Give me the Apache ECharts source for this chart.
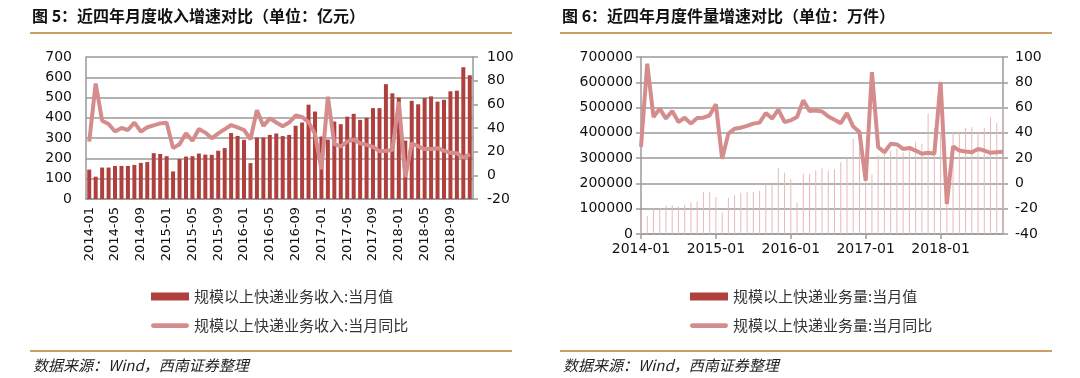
<!DOCTYPE html>
<html>
<head>
<meta charset="utf-8">
<script src="https://cdn.jsdelivr.net/npm/echarts@6/dist/echarts.min.js"></script>
<style>
html, body { margin: 0; padding: 0; background: #fff; }
#main { width: 1080px; height: 378px; }
</style>
</head>
<body>
<div id="main"></div>
<script>
// 月份
function monthList(startYear, count) {
    var out = [];
    for (var i = 0; i < count; i++) {
        var y = startYear + Math.floor(i / 12);
        var m = (i % 12) + 1;
        out.push(y + '-' + (m < 10 ? '0' + m : m));
    }
    return out;
}
var incomeMonths = monthList(2014, 60);
var volumeMonths = monthList(2014, 59);

// 图5 收入（亿元）与同比（%）
var incomeValue = [145, 110, 155, 155, 163, 163, 163, 168, 178, 182, 226, 222,
    211, 136, 197, 209, 211, 224, 219, 218, 238, 251, 325, 311,
    292, 177, 303, 303, 316, 323, 310, 316, 361, 377, 465, 431,
    308, 293, 382, 369, 406, 420, 390, 400, 448, 448, 566, 521,
    500, 288, 484, 467, 498, 506, 480, 489, 531, 534, 649, 610];
var incomeYoy = [28.5, 77.6, 46.2, 43.4, 37, 40, 38.3, 44.5, 37, 40.6, 42.2, 43.9,
    44.5, 23, 26.3, 35.5, 29.3, 39.2, 36.1, 31.3, 35.5, 38.9, 42.5, 40.6,
    38.3, 30.5, 55.1, 41.7, 48.1, 44.6, 41.4, 44.6, 50.5, 49.3, 45, 35,
    5, 66.4, 26.4, 24.5, 28.5, 30.2, 27.1, 25.7, 24, 20.4, 20.8, 21.5,
    62.1, -1.5, 27.1, 24.6, 22.2, 22.2, 22.9, 20.8, 19, 18.7, 14.9, 17.7];

// 图6 件量（万件）与同比（%）
var volumeValue = [92000, 71000, 101000, 101000, 112000, 113000, 109000, 116000, 125000, 130000, 165000, 165000,
    146000, 85000, 142000, 153000, 163000, 165000, 166000, 171000, 196000, 200000, 262000, 242000,
    218000, 125000, 238000, 238000, 251000, 260000, 251000, 256000, 284000, 300000, 376000, 346000,
    223000, 235000, 310000, 318000, 330000, 338000, 322000, 336000, 365000, 357000, 477000, 420000,
    403000, 197000, 401000, 405000, 420000, 422000, 405000, 420000, 462000, 440000, 500000];
var volumeYoy = [28.9, 94.7, 52.6, 59.2, 51.3, 57.3, 48.6, 52, 47.3, 51.8, 52, 53.9,
    62.6, 19.6, 39.4, 43.3, 44.1, 45.5, 47.3, 48.1, 55.7, 51.3, 58.4, 48.6,
    49.9, 52.5, 65.7, 57.3, 57.7, 56.9, 53, 50.3, 47.7, 55.6, 45, 40.6,
    2.2, 88.1, 28.7, 24.7, 31.3, 30.8, 27.3, 28.1, 26, 23.4, 24.2, 23.4,
    80.2, -16.2, 29.2, 26, 25.2, 24.7, 27.3, 26, 24.2, 24.7, 25];

var cjk = '"Noto Sans CJK SC", sans-serif';
var num = '"DejaVu Sans", sans-serif';
var barColor = '#b0403e';
var lineColor = '#d48d8c';
var gold = '#c9a062';
var gridGray = '#9a9a9a';
// 图例中的粗线（圆头）
var lineIcon = 'path://M2.5,0 L37.5,0 A2.5,2.5 0 0 1 37.5,5 L2.5,5 A2.5,2.5 0 0 1 2.5,0 Z';

var chart = echarts.init(document.getElementById('main'));

var option = {
    animation: false,
    backgroundColor: '#fff',
    title: [
        { text: '图 5：近四年月度收入增速对比（单位：亿元）', left: 32, top: 8, padding: 0,
          textStyle: { fontFamily: cjk, fontSize: 16, fontWeight: 'bold', color: '#111' } },
        { text: '图 6：近四年月度件量增速对比（单位：万件）', left: 562, top: 8, padding: 0,
          textStyle: { fontFamily: cjk, fontSize: 16, fontWeight: 'bold', color: '#111' } },
        { text: '数据来源：Wind，西南证券整理', left: 33, top: 358, padding: 0,
          textStyle: { fontFamily: cjk, fontSize: 15, fontStyle: 'italic', fontWeight: 'normal', color: '#222' } },
        { text: '数据来源：Wind，西南证券整理', left: 563, top: 358, padding: 0,
          textStyle: { fontFamily: cjk, fontSize: 15, fontStyle: 'italic', fontWeight: 'normal', color: '#222' } }
    ],
    graphic: [
        { type: 'line', shape: { x1: 30, y1: 33, x2: 512, y2: 33 }, style: { stroke: gold, lineWidth: 2 } },
        { type: 'line', shape: { x1: 560, y1: 33, x2: 1052, y2: 33 }, style: { stroke: gold, lineWidth: 2 } },
        { type: 'line', shape: { x1: 30, y1: 351, x2: 512, y2: 351 }, style: { stroke: gold, lineWidth: 2 } },
        { type: 'line', shape: { x1: 560, y1: 351, x2: 1052, y2: 351 }, style: { stroke: gold, lineWidth: 2 } }
    ],
    legend: [
        { orient: 'vertical', left: 146, top: 284, itemWidth: 38, itemHeight: 8, itemGap: 14,
          textStyle: { fontFamily: cjk, fontSize: 15, color: '#333' },
          data: [
              { name: '规模以上快递业务收入:当月值', icon: 'rect' },
              { name: '规模以上快递业务收入:当月同比', icon: lineIcon, itemStyle: { color: lineColor } }
          ] },
        { orient: 'vertical', left: 685, top: 284, itemWidth: 38, itemHeight: 8, itemGap: 14,
          textStyle: { fontFamily: cjk, fontSize: 15, color: '#333' },
          data: [
              { name: '规模以上快递业务量:当月值', icon: 'rect', itemStyle: { color: barColor } },
              { name: '规模以上快递业务量:当月同比', icon: lineIcon, itemStyle: { color: lineColor } }
          ] }
    ],
    grid: [
        { left: 86, top: 57, width: 387, height: 142 },
        { left: 641, top: 57, width: 362, height: 177 }
    ],
    xAxis: [
        { type: 'category', gridIndex: 0, data: incomeMonths, boundaryGap: true,
          axisLine: { lineStyle: { color: gridGray, width: 1.5 } },
          axisTick: { show: false },
          axisLabel: { interval: 3, rotate: 90, margin: 8, fontFamily: num, fontSize: 13, color: '#111' } },
        { type: 'category', gridIndex: 1, data: volumeMonths, boundaryGap: false,
          axisLine: { lineStyle: { color: gridGray, width: 1.5 } },
          axisTick: { show: true, interval: 11, length: 5, lineStyle: { color: gridGray, width: 1.5 } },
          axisLabel: { interval: 11, margin: 8, fontFamily: num, fontSize: 14, color: '#111' } }
    ],
    yAxis: [
        { type: 'value', gridIndex: 0, min: 0, max: 700, interval: 100, position: 'left',
          axisLine: { show: true, lineStyle: { color: gridGray, width: 1.5 } },
          axisTick: { show: false },
          splitLine: { lineStyle: { color: gridGray, width: 1.5 } },
          axisLabel: { margin: 14, fontFamily: num, fontSize: 14, color: '#111' } },
        { type: 'value', gridIndex: 0, min: -20, max: 100, interval: 20, position: 'right',
          axisLine: { show: true, lineStyle: { color: gridGray, width: 1.5 } },
          axisTick: { show: true, length: 5, lineStyle: { color: gridGray, width: 1.5 } },
          splitLine: { show: false },
          axisLabel: { margin: 14, fontFamily: num, fontSize: 14, color: '#111' } },
        { type: 'value', gridIndex: 1, min: 0, max: 700000, interval: 100000, position: 'left',
          axisLine: { show: true, lineStyle: { color: gridGray, width: 1.5 } },
          axisTick: { show: true, length: 5, lineStyle: { color: gridGray, width: 1.5 } },
          splitLine: { lineStyle: { color: gridGray, width: 1.5 } },
          axisLabel: { margin: 8, fontFamily: num, fontSize: 14, color: '#111',
                       formatter: function (v) { return String(v); } } },
        { type: 'value', gridIndex: 1, min: -40, max: 100, interval: 20, position: 'right',
          axisLine: { show: true, lineStyle: { color: gridGray, width: 1.5 } },
          axisTick: { show: true, length: 5, lineStyle: { color: gridGray, width: 1.5 } },
          splitLine: { show: false },
          axisLabel: { margin: 12, fontFamily: num, fontSize: 14, color: '#111' } }
    ],
    series: [
        { name: '规模以上快递业务收入:当月值', type: 'bar', xAxisIndex: 0, yAxisIndex: 0,
          data: incomeValue, barWidth: '62%', itemStyle: { color: barColor } },
        { name: '规模以上快递业务收入:当月同比', type: 'line', xAxisIndex: 0, yAxisIndex: 1,
          data: incomeYoy, symbol: 'none', lineStyle: { color: lineColor, width: 4 }, itemStyle: { color: lineColor } },
        { name: '规模以上快递业务量:当月值', type: 'bar', xAxisIndex: 1, yAxisIndex: 2,
          data: volumeValue, barWidth: 1, itemStyle: { color: '#e7b9b9' } },
        { name: '规模以上快递业务量:当月同比', type: 'line', xAxisIndex: 1, yAxisIndex: 3,
          data: volumeYoy, symbol: 'none', lineStyle: { color: lineColor, width: 4 }, itemStyle: { color: lineColor } }
    ]
};

chart.setOption(option);
</script>
</body>
</html>
